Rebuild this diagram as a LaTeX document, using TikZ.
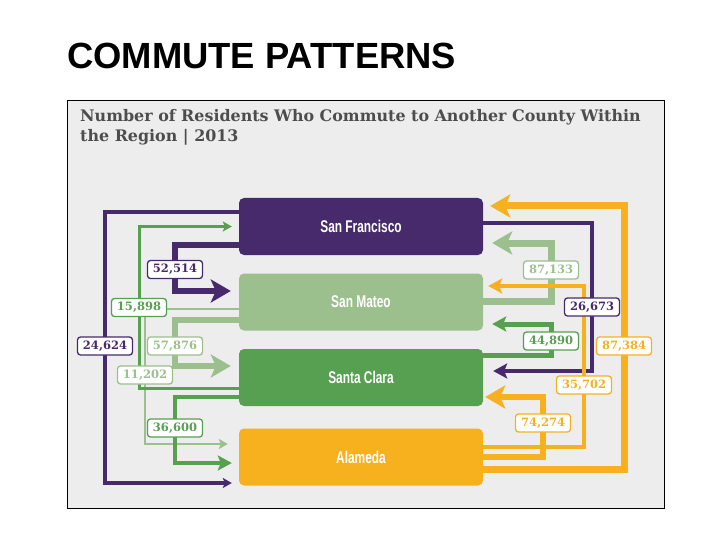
\documentclass[tikz,border=0pt]{standalone}
\usepackage{fontspec}
\usetikzlibrary{arrows.meta,backgrounds}
\newfontfamily\titlefont{Liberation Sans}
\newfontfamily\slabfont{DejaVu Serif}
\newfontfamily\countyfont{Liberation Sans}
\definecolor{sfpurple}{HTML}{472A6C}
\definecolor{smgreen}{HTML}{9BC08E}
\definecolor{scgreen}{HTML}{579F51}
\definecolor{alyellow}{HTML}{F7B11F}
\definecolor{panelgray}{HTML}{EDEDED}
\definecolor{subgray}{HTML}{4D4D4D}
\begin{document}
\begin{tikzpicture}[x=1pt,y=-1pt]
		\useasboundingbox (0,0) rectangle (720,540);
		\begin{scope}
		
		\tikzstyle{countybox}=[rectangle,
		rounded corners=5pt,
		inner sep=0pt,
		minimum width=244pt,
		minimum height=57pt,
		text=white,
		font=\countyfont\bfseries\fontsize{17}{18}\selectfont
		]
		\tikzstyle{countlabel}=[rectangle,
		rounded corners=3pt,
		fill=white,
		line width=1.3pt,
		inner sep=0pt,
		minimum width=55pt,
		minimum height=18pt,
		font=\slabfont\bfseries\fontsize{11.5}{12}\selectfont
		]
		\tikzstyle{flow}=[line join=miter]
		\tikzstyle{bighead}=[-{Stealth[length=20pt,width=23pt,inset=5pt]}]
		\tikzstyle{midhead}=[-{Stealth[length=14pt,width=15pt,inset=3pt]}]
		\tikzstyle{smallhead}=[-{Stealth[length=9pt,width=10pt,inset=2pt]}]
		
		\coordinate (psf) at (361, 226.5);
		\coordinate (psm) at (361, 302);
		\coordinate (psc) at (361, 377.5);
		\coordinate (pal) at (361, 457);
		
		% panel and headings
		\begin{scope}[on background layer]
		\draw[fill=panelgray, draw=black, line width=1pt] (67,101) rectangle (664,508);
		\end{scope}
		\node[anchor=base west, inner sep=0pt, font=\titlefont\bfseries\fontsize{36.4}{40}\selectfont] (title) at (67,69) {COMMUTE PATTERNS};
		\node[anchor=base west, inner sep=0pt, text=subgray, font=\slabfont\bfseries\fontsize{15.9}{18}\selectfont] (sub1) at (80,122) {Number of Residents Who Commute to Another County Within};
		\node[anchor=base west, inner sep=0pt, text=subgray, font=\slabfont\bfseries\fontsize{15.9}{18}\selectfont] (sub2) at (80,142) {the Region | 2013};
		
		% counties
		\node[countybox, fill=sfpurple] (sf) at (psf) {\scalebox{0.7}[1]{San Francisco}};
		\node[countybox, fill=smgreen] (sm) at (psm) {\scalebox{0.7}[1]{San Mateo}};
		\node[countybox, fill=scgreen] (sc) at (psc) {\scalebox{0.7}[1]{Santa Clara}};
		\node[countybox, fill=alyellow] (al) at (pal) {\scalebox{0.7}[1]{Alameda}};
		
		% counts
		\node[countlabel, draw=sfpurple, text=sfpurple] (n52514) at (175, 269.5) {52,514};
		\node[countlabel, draw=sfpurple, text=sfpurple] (n24624) at (105, 346) {24,624};
		\node[countlabel, draw=scgreen, text=scgreen] (n15898) at (139, 307.5) {15,898};
		\node[countlabel, draw=smgreen, text=smgreen] (n57876) at (175, 346) {57,876};
		\node[countlabel, draw=smgreen, text=smgreen] (n11202) at (145, 375) {11,202};
		\node[countlabel, draw=scgreen, text=scgreen] (n36600) at (175, 428) {36,600};
		\node[countlabel, draw=alyellow, text=alyellow] (n87384) at (624, 346) {87,384};
		\node[countlabel, draw=smgreen, text=smgreen] (n87133) at (551, 270) {87,133};
		\node[countlabel, draw=sfpurple, text=sfpurple] (n26673) at (592, 307) {26,673};
		\node[countlabel, draw=alyellow, text=alyellow] (n35702) at (584, 385) {35,702};
		\node[countlabel, draw=scgreen, text=scgreen] (n44890) at (551, 341) {44,890};
		\node[countlabel, draw=alyellow, text=alyellow] (n74274) at (543, 423) {74,274};
		
		\begin{scope}[on background layer]
		\draw[flow, bighead, smgreen, line width=7pt] ([yshift=1pt]sm.east) -| (n87133.center) |- ([xshift=9pt,yshift=-16.5pt]sf.east);
		\draw[flow, smallhead, smgreen, line width=2.5pt] ([yshift=-7pt]sm.west) -| (n11202.center) |- ([xshift=-11pt,yshift=13pt]al.west);
		\draw[flow, bighead, smgreen, line width=6pt] ([yshift=-18pt]sm.west) -| (n57876.center) |- ([xshift=-8pt,yshift=11.5pt]sc.west);
		\draw[flow, midhead, sfpurple, line width=3.5pt] ([yshift=3.5pt]sf.east) -| (n26673.center) |- ([xshift=10pt,yshift=6.5pt]sc.east);
		\draw[flow, smallhead, sfpurple, line width=3.5pt] ([yshift=14.5pt]sf.west) -| (n24624.center) |- ([xshift=-7pt,yshift=-26pt]al.west);
		\draw[flow, bighead, sfpurple, line width=5.5pt] ([yshift=-18.5pt]sf.west) -| (n52514.center) |- ([xshift=-8pt,yshift=11pt]sm.west);
		\draw[flow, smallhead, scgreen, line width=3pt] ([yshift=-10.5pt]sc.west) -| (n15898.center) |- ([xshift=-7pt]sf.west);
		\draw[flow, midhead, scgreen, line width=4.5pt] ([yshift=-19.5pt]sc.west) -| (n36600.center) |- ([xshift=-7pt,yshift=-6pt]al.west);
		\draw[flow, midhead, scgreen, line width=5pt] ([yshift=22.5pt]sc.east) -| (n44890.center) |- ([xshift=9pt,yshift=-22pt]sm.east);
		\draw[flow, midhead, alyellow, line width=4pt] ([yshift=10pt]al.east) -| (n35702.center) |- ([xshift=5pt,yshift=16pt]sm.east);
		\draw[flow, bighead, alyellow, line width=6.5pt] (al.east) -| (n74274.center) |- ([xshift=2pt,yshift=-19.5pt]sc.east);
		\draw[flow, bighead, alyellow, line width=7pt] ([yshift=-12pt]al.east) -| (n87384.center) |- ([xshift=7pt,yshift=20.5pt]sf.east);
		\end{scope}
		
		\end{scope}
\end{tikzpicture}
\end{document}
